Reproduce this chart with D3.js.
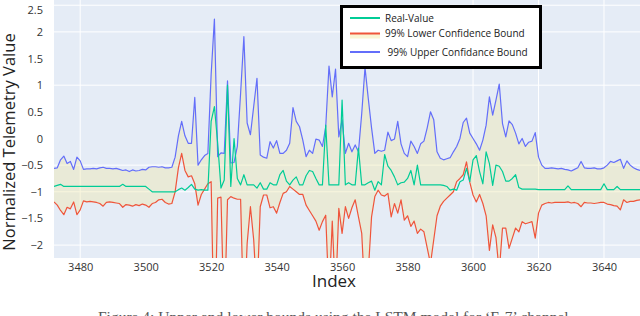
<!DOCTYPE html>
<html><head><meta charset="utf-8">
<script src="https://cdn.jsdelivr.net/npm/d3@7/dist/d3.min.js"></script>
<style>html,body{margin:0;padding:0;background:#fff;}svg{display:block;}</style>
</head><body>
<svg id="c" width="640" height="316"></svg>
<script>
const startIndex = 3472, endIndex = 3651;
const xTicks = [3480,3500,3520,3540,3560,3580,3600,3620,3640];
const yTicks = [2.5,2,1.5,1,0.5,0,-0.5,-1,-1.5,-2];
const xGridVals = [3480,3600,3620,3640];
const yGridVals = [2.5,2,1,-0.5,-1,-2];
const seriesNames = ["Real-Value","99% Lower Confidence Bound"," 99% Upper Confidance Bound"];

const upper = [
-0.56,-0.55,-0.40,-0.33,-0.47,-0.43,-0.58,-0.35,-0.42,-0.58,
-0.57,-0.57,-0.56,-0.57,-0.55,-0.54,-0.56,-0.56,-0.57,-0.56,
-0.58,-0.60,-0.59,-0.62,-0.59,-0.61,-0.60,-0.58,-0.59,-0.54,
-0.53,-0.53,-0.54,-0.53,-0.55,-0.55,-0.54,-0.35,0.05,0.32,
0.05,-0.09,-0.09,0.77,-0.50,-0.40,-0.32,-0.28,1.2,2.24,
-0.34,-0.27,-0.28,1.08,-0.46,-0.45,-0.15,0.85,1.91,0.29,
0.07,0.6,1.13,-0.31,-0.35,-0.37,-0.06,-0.18,-0.04,-0.28,
-0.28,-0.22,-0.09,0.58,0.32,0.22,-0.03,-0.34,-0.22,-0.28,
-0.01,-0.03,-0.15,0.22,1.36,0.78,1.30,0.03,0.35,-0.28,
-0.09,-0.25,-0.12,-0.25,0.47,1.33,0.75,0.2,-0.28,-0.22,
-0.24,-0.22,0.12,-0.04,-0.01,0.32,-0.1,-0.28,-0.34,-0.05,
-0.15,-0.28,-0.1,-0.05,0.2,0.5,0.35,-0.25,-0.37,-0.40,
-0.38,-0.36,-0.25,-0.15,0.0,0.3,0.38,0.1,0.0,-0.1,
-0.22,-0.03,0.25,0.78,0.44,0.72,1.02,0.28,0.03,0.33,
0.26,0.1,-0.10,0.0,-0.15,-0.07,-0.05,0.11,-0.35,-0.5,
-0.56,-0.56,-0.55,-0.56,-0.57,-0.56,-0.58,-0.59,-0.61,-0.58,
-0.55,-0.43,-0.55,-0.56,-0.56,-0.55,-0.57,-0.57,-0.55,-0.5,
-0.43,-0.45,-0.42,-0.39,-0.56,-0.42,-0.5,-0.55,-0.58,-0.6];

const real = [
-0.90,-0.88,-0.86,-0.90,-0.90,-0.90,-0.90,-0.90,-0.90,-0.90,
-0.90,-0.90,-0.90,-0.90,-0.90,-0.90,-0.90,-0.90,-0.90,-0.90,
-0.90,-0.86,-0.90,-0.90,-0.90,-0.90,-0.90,-0.90,-0.90,-0.95,
-1.00,-1.00,-1.00,-1.00,-1.00,-1.00,-1.00,-1.00,-0.96,-0.93,
-0.97,-0.92,-0.86,-0.95,-0.97,-0.96,-0.97,-0.97,0.32,0.60,
-0.09,-0.93,-0.78,1.00,-0.90,0.00,-0.75,-0.87,-0.68,-0.87,
-0.87,-0.87,-0.93,-0.83,-0.95,-0.95,-0.83,-0.87,-0.87,-0.68,
-0.60,-0.80,-0.87,-0.78,-0.72,-0.87,-0.87,-0.70,-0.60,-0.62,
-0.75,-0.87,-0.87,0.25,-0.87,-0.87,-0.87,-0.87,0.72,-0.87,
-0.83,-0.87,-0.87,-0.18,-0.87,-0.87,-0.83,-0.80,-0.97,-0.81,
-0.87,-0.30,-0.52,-0.60,-0.72,-0.87,-0.83,-0.82,-0.75,-0.60,
-0.87,-0.50,-0.87,-0.87,-0.87,-0.87,-0.87,-0.87,-0.87,-0.88,
-0.90,-0.97,-0.95,-0.97,-0.81,-0.78,-0.56,-0.81,-0.40,-0.32,
-0.62,-0.85,-0.25,-0.47,-0.88,-0.50,-0.52,-0.62,-0.80,-0.80,
-0.75,-0.68,-0.92,-0.95,-0.95,-0.95,-0.95,-0.95,-0.96,-0.96,
-0.96,-0.96,-0.96,-0.96,-0.96,-0.96,-0.96,-0.89,-0.96,-0.96,
-0.96,-0.96,-0.96,-0.96,-0.96,-0.96,-0.96,-0.96,-0.85,-0.96,
-0.96,-0.96,-0.90,-0.96,-0.96,-0.96,-0.96,-0.96,-0.96,-0.96];

const lower = [
-1.19,-1.25,-1.35,-1.43,-1.29,-1.32,-1.19,-1.43,-1.34,-1.17,
-1.19,-1.18,-1.19,-1.20,-1.22,-1.27,-1.20,-1.19,-1.20,-1.21,
-1.22,-1.29,-1.24,-1.25,-1.27,-1.24,-1.26,-1.23,-1.25,-1.29,
-1.22,-1.20,-1.15,-1.14,-1.20,-1.23,-1.22,-1.00,-0.55,-0.28,
-0.60,-0.72,-0.70,-0.85,-1.25,-1.05,-0.95,-0.85,-0.81,-4.0,
-1.12,-1.10,-3.5,-1.15,-1.09,-1.12,-1.14,-1.14,-3.5,-1.97,
-1.28,-1.90,-3.0,-1.28,-1.06,-1.06,-1.30,-1.28,-1.40,-1.20,
-1.03,-1.00,-0.90,-0.95,-1.00,-1.05,-1.05,-1.25,-1.35,-1.45,
-1.55,-1.72,-1.56,-1.44,-3.0,-1.55,-3.0,-1.31,-1.78,-1.28,
-1.50,-1.30,-1.15,-1.47,-1.78,-3.0,-2.5,-1.47,-1.09,-0.97,
-1.06,-1.08,-1.03,-1.47,-1.22,-1.40,-1.15,-1.53,-1.45,-1.65,
-1.55,-1.78,-1.70,-1.75,-2.05,-2.35,-1.90,-1.45,-1.27,-1.18,
-1.12,-1.06,-1.00,-0.81,-0.75,-0.68,-0.44,-0.82,-1.06,-1.19,
-1.05,-1.22,-1.45,-2.10,-1.62,-1.86,-2.5,-1.68,-1.68,-2.06,
-1.87,-1.68,-1.75,-1.56,-1.60,-1.58,-1.56,-1.87,-1.40,-1.25,
-1.22,-1.20,-1.21,-1.20,-1.20,-1.20,-1.20,-1.19,-1.21,-1.20,
-1.22,-1.28,-1.20,-1.21,-1.21,-1.22,-1.21,-1.20,-1.20,-1.23,
-1.24,-1.26,-1.27,-1.34,-1.15,-1.20,-1.18,-1.18,-1.16,-1.15];

const index = d3.range(startIndex, endIndex + 1);
const rows = index.map((ix, k) => ({ix, up: upper[k], lo: lower[k], re: real[k]}));

const svg = d3.select("#c");
const L = 54, R = 640, T = 0, B = 258;
const x = d3.scaleLinear().domain([startIndex, endIndex]).range([L, R]);
const y = d3.scaleLinear().domain([-2.242, 2.598]).range([B, T]);

const colors = {real: "#00cc96", lower: "#ef553b", upper: "#636efa"};
const fillCol = "rgba(240,232,170,0.40)";

svg.append("rect").attr("x", L).attr("y", T).attr("width", R - L).attr("height", B - T).attr("fill", "#e5ecf6");

svg.append("defs").append("clipPath").attr("id", "clip")
  .append("rect").attr("x", L).attr("y", T).attr("width", R - L).attr("height", B - T);

const grid = svg.append("g");
grid.selectAll("line.h").data(yGridVals).join("line")
  .attr("x1", L).attr("x2", R).attr("y1", d => y(d)).attr("y2", d => y(d))
  .attr("stroke", "#fff").attr("stroke-width", 1);
grid.selectAll("line.v").data(xGridVals).join("line")
  .attr("y1", T).attr("y2", B).attr("x1", d => x(d)).attr("x2", d => x(d))
  .attr("stroke", "#fff").attr("stroke-width", 1);

const plot = svg.append("g").attr("clip-path", "url(#clip)");
plot.append("path").datum(rows)
  .attr("d", d3.area().x(d => x(d.ix)).y0(d => y(d.lo)).y1(d => y(d.up)))
  .attr("fill", fillCol);

const line = key => d3.line().x(d => x(d.ix)).y(d => y(d[key]));
plot.append("path").datum(rows).attr("d", line("lo")).attr("fill", "none")
  .attr("stroke", colors.lower).attr("stroke-width", 1.2).attr("stroke-linejoin", "round");
plot.append("path").datum(rows).attr("d", line("up")).attr("fill", "none")
  .attr("stroke", colors.upper).attr("stroke-width", 1.2).attr("stroke-linejoin", "round");
plot.append("path").datum(rows).attr("d", line("re")).attr("fill", "none")
  .attr("stroke", colors.real).attr("stroke-width", 1.2).attr("stroke-linejoin", "round");

// axes
const fontF = "'Open Sans', 'DejaVu Sans', sans-serif";
const ya = svg.append("g").attr("transform", `translate(${L},0)`)
  .call(d3.axisLeft(y).tickValues(yTicks).tickSize(0).tickPadding(11).tickFormat(d3.format("")));
ya.select(".domain").remove();
ya.selectAll("text").attr("font-family", fontF).attr("font-size", 11).attr("fill", "#333");
ya.selectAll(".tick").filter(d => d === 2.5).select("text").attr("dy", "0.75em");

const xa = svg.append("g").attr("transform", `translate(0,${B})`)
  .call(d3.axisBottom(x).tickValues(xTicks).tickSize(0).tickPadding(5).tickFormat(d3.format("d")));
xa.select(".domain").remove();
xa.selectAll("text").attr("font-family", fontF).attr("font-size", 11).attr("fill", "#333");

svg.append("text").attr("x", 334).attr("y", 287).attr("text-anchor", "middle")
  .attr("font-family", fontF).attr("font-size", 17).attr("fill", "#222").text("Index");
svg.append("text").attr("transform", "translate(15,142) rotate(-90)").attr("text-anchor", "middle")
  .attr("font-family", fontF).attr("font-size", 16.5).attr("fill", "#222").text("Normalized Telemetry Value");

// legend
const lg = svg.append("g");
lg.append("rect").attr("x", 341.5).attr("y", 6.5).attr("width", 199).attr("height", 61)
  .attr("fill", "#fff").attr("stroke", "#000").attr("stroke-width", 3);
const legItems = [
  {name: seriesNames[0], color: colors.real, y: 18, fill: false},
  {name: seriesNames[1], color: colors.lower, y: 33.5, fill: true},
  {name: seriesNames[2], color: colors.upper, y: 52, fill: false}
];
legItems.forEach(it => {
  if (it.fill) lg.append("rect").attr("x", 350).attr("y", it.y).attr("width", 30).attr("height", 5).attr("fill", "rgba(245,235,170,0.5)");
  lg.append("line").attr("x1", 350).attr("x2", 380).attr("y1", it.y).attr("y2", it.y)
    .attr("stroke", it.color).attr("stroke-width", 2);
  lg.append("text").attr("x", 385).attr("y", it.y).attr("dy", "0.35em")
    .attr("font-family", fontF).attr("font-size", 10).attr("fill", "#222")
    .attr("xml:space", "preserve").style("white-space", "pre").text(it.name);
});

// caption (cut off at bottom edge)
svg.append("text").attr("x", 98).attr("y", 322)
  .attr("font-family", "'Liberation Serif', 'DejaVu Serif', serif").attr("font-size", 15.5).attr("fill", "#555")
  .text("Figure 4: Upper and lower bounds using the LSTM model for \u2018E-7\u2019 channel");
</script>
</body></html>
